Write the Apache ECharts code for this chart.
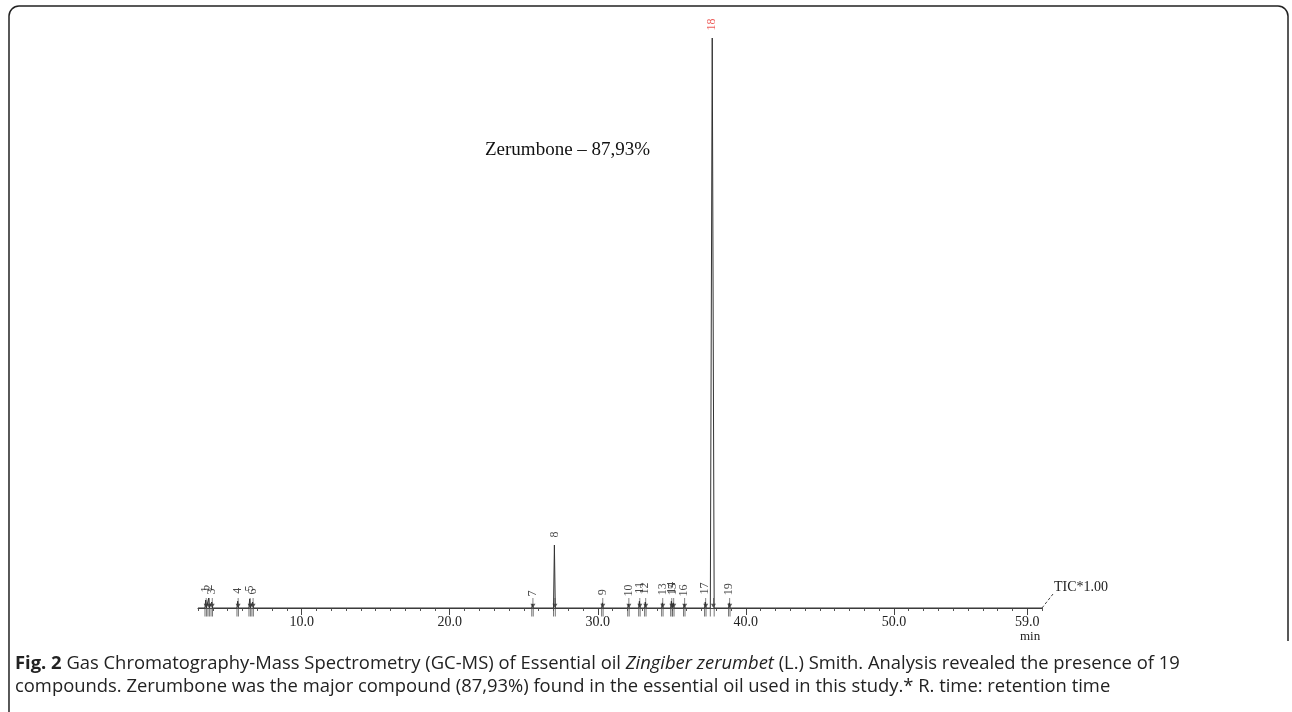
<!DOCTYPE html>
<html>
<head>
<meta charset="utf-8">
<script src="https://cdn.jsdelivr.net/npm/echarts@6/dist/echarts.min.js"></script>
<style>
html,body{margin:0;padding:0;background:#fff;}
#chart{width:1292px;height:712px;}
</style>
</head>
<body>
<div id="chart"></div>
<script>
// Peak table
const peakNumbers = ['1','2','3','4','5','6','7','8','9','10','11','12','13','14','15','16','17','18','19'];
const retentionTimes = [3.52, 3.72, 3.93, 5.68, 6.49, 6.69, 25.59, 27.07, 30.31, 32.07, 32.81, 33.21, 34.36, 34.97, 35.10, 35.84, 37.26, 37.73, 38.88];
const peakHeights = [1.4, 1.75, 1.05, 1.2, 1.6, 1.05, 0.7, 11.05, 0.9, 0.7, 1.2, 1.05, 0.9, 1.2, 0.9, 0.7, 1.05, 100, 0.9];
const peakHalfWidths = [0.05, 0.05, 0.05, 0.05, 0.05, 0.05, 0.05, 0.06, 0.05, 0.05, 0.05, 0.05, 0.05, 0.05, 0.05, 0.05, 0.05, 0.13, 0.05];
const majorTickLabels = [10, 20, 30, 40, 50, 59];
const timeRange = [3, 60];

// chromatogram trace built from the peak table
const trace = [[timeRange[0], 0]];
retentionTimes.forEach((t, i) => {
  trace.push([t - peakHalfWidths[i], 0]);
  trace.push([t, peakHeights[i]]);
  trace.push([t + peakHalfWidths[i], 0]);
});
trace.push([timeRange[1], 0]);

const labelPoints = retentionTimes.map((t, i) => ({
  value: [t, peakHeights[i]],
  label: { color: peakNumbers[i] === '18' ? '#e8322e' : '#1a1a1a' }
}));
const arrowPoints = retentionTimes.map((t, i) => [t + peakHalfWidths[i] * 0.6, 0]);
const basePoints = [];
retentionTimes.forEach((t, i) => {
  basePoints.push([t - peakHalfWidths[i], 0]);
  basePoints.push([t + peakHalfWidths[i], 0]);
});

const chart = echarts.init(document.getElementById('chart'), null, {renderer: 'canvas'});
const serif = '"Liberation Serif", "DejaVu Serif", serif';
const sans = '"Open Sans", "Noto Sans", sans-serif';
chart.setOption({
  animation: false,
  backgroundColor: '#fff',
  grid: { left: 198, right: 250, top: 38, bottom: 104, containLabel: false },
  xAxis: [{
    type: 'value', min: timeRange[0], max: timeRange[1], interval: 1,
    axisLine: { onZero: false, lineStyle: { color: '#444', width: 1.2 } },
    axisTick: { show: true, length: 3, lineStyle: { color: '#555' } },
    axisLabel: { show: false },
    splitLine: { show: false }
  }, {
    type: 'value', min: timeRange[0], max: timeRange[1], position: 'bottom',
    axisLine: { show: false },
    axisTick: { show: true, length: 7, customValues: majorTickLabels, lineStyle: { color: '#444' } },
    axisLabel: {
      show: true, customValues: majorTickLabels, margin: 7,
      fontFamily: serif, fontSize: 14, color: '#222',
      formatter: v => v.toFixed(1)
    },
    splitLine: { show: false }
  }],
  yAxis: {
    type: 'value', min: 0, max: 100, show: false
  },
  series: [{
    name: 'TIC', type: 'line', data: trace, showSymbol: false, symbol: 'none',
    lineStyle: { color: '#333', width: 1 }, clip: false, silent: true, z: 3
  }, {
    name: 'peak labels', type: 'scatter', data: labelPoints, clip: false, silent: true,
    symbol: 'circle', symbolSize: 1, itemStyle: { color: 'rgba(0,0,0,0)' },
    label: {
      show: true, position: 'top', rotate: 90, align: 'left', verticalAlign: 'middle',
      distance: 7, fontFamily: serif, fontSize: 12,
      formatter: p => peakNumbers[p.dataIndex]
    }, z: 4
  }, {
    name: 'peak arrows', type: 'scatter', data: arrowPoints, clip: false, silent: true,
    symbol: 'path://M4.4,0 L5.6,0 L5.6,7 L9,7 L5,12 L1,7 L4.4,7 Z',
    symbolSize: [5, 10], symbolOffset: [0, -5], symbolKeepAspect: false,
    itemStyle: { color: '#333' }, z: 4
  }, {
    name: 'integration marks', type: 'scatter', data: basePoints, clip: false, silent: true,
    symbol: 'rect', symbolSize: [1, 9], symbolOffset: [0, 4],
    itemStyle: { color: '#555' }, z: 2
  }],
  graphic: [
    { type: 'rect', shape: { x: 9, y: 6, width: 1279, height: 740, r: 10 },
      style: { fill: 'none', stroke: '#222', lineWidth: 1.5 }, z: 1 },
    { type: 'rect', shape: { x: 1282, y: 641, width: 12, height: 80 },
      style: { fill: '#fff', stroke: 'none' }, z: 2 },
    { type: 'text', left: 485, top: 141,
      style: { text: 'Zerumbone – 87,93%', font: '19px ' + serif, fill: '#111' } },
    { type: 'line', shape: { x1: 1042, y1: 608, x2: 1053, y2: 594 },
      style: { stroke: '#444', lineWidth: 1, lineDash: [3, 2] } },
    { type: 'text', left: 1054, top: 580,
      style: { text: 'TIC*1.00', font: '14px ' + serif, fill: '#222' } },
    { type: 'text', left: 1020, top: 630,
      style: { text: 'min', font: '13px ' + serif, fill: '#222' } },
    { type: 'text', left: 15, top: 652,
      style: {
        text: '{b|Fig. 2} Gas Chromatography-Mass Spectrometry (GC-MS) of Essential oil {i|Zingiber zerumbet} (L.) Smith. Analysis revealed the presence of 19\ncompounds. Zerumbone was the major compound (87,93%) found in the essential oil used in this study.* R. time: retention time',
        font: '18.4px ' + sans, fill: '#222', lineHeight: 23,
        rich: {
          b: { fontWeight: 'bold', fontFamily: sans, fontSize: 18.4, fill: '#222', lineHeight: 23 },
          i: { fontStyle: 'italic', fontFamily: sans, fontSize: 18.4, fill: '#222', lineHeight: 23 }
        }
      } }
  ]
});
</script>
</body>
</html>
